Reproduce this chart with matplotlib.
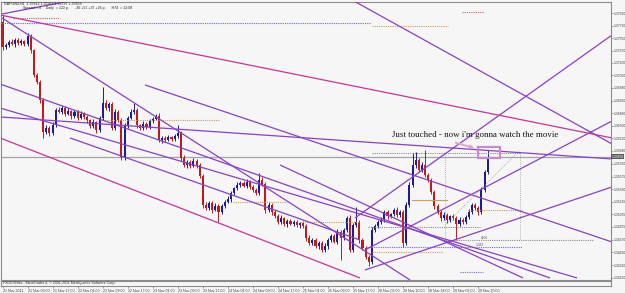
import matplotlib
matplotlib.use("Agg")
import matplotlib.pyplot as plt
from matplotlib.patches import Rectangle, FancyArrowPatch

# ---------------- data (GBPUSD H1) ----------------
first_open = 1.3778
closes = [
    1.3743, 1.3745, 1.3750, 1.3747, 1.3753, 1.3748, 1.3751, 1.3747, 1.3758, 1.3738,
    1.3703, 1.3693, 1.3667, 1.3621, 1.3627, 1.3620, 1.3631, 1.3653, 1.3650, 1.3655,
    1.3647, 1.3651, 1.3644, 1.3650, 1.3641, 1.3647, 1.3643, 1.3638, 1.3630, 1.3635,
    1.3624, 1.3641, 1.3663, 1.3655, 1.3661, 1.3627, 1.3650, 1.3638, 1.3585, 1.3630,
    1.3641, 1.3650, 1.3653, 1.3631, 1.3627, 1.3633, 1.3628, 1.3637, 1.3640, 1.3644,
    1.3610, 1.3613, 1.3610, 1.3614, 1.3611, 1.3615, 1.3620, 1.3584, 1.3574, 1.3578,
    1.3573, 1.3580, 1.3574, 1.3558, 1.3517, 1.3513, 1.3520, 1.3510, 1.3515, 1.3507,
    1.3515, 1.3521, 1.3525, 1.3534, 1.3541, 1.3545, 1.3548, 1.3544, 1.3550, 1.3543,
    1.3538, 1.3534, 1.3553, 1.3547, 1.3510, 1.3517, 1.3507, 1.3501, 1.3493, 1.3498,
    1.3490, 1.3494, 1.3490, 1.3493, 1.3488, 1.3491, 1.3487, 1.3470, 1.3463, 1.3467,
    1.3458, 1.3463, 1.3453, 1.3458, 1.3467, 1.3473, 1.3464, 1.3478, 1.3470, 1.3481,
    1.3498, 1.3453, 1.3488, 1.3493, 1.3467, 1.3455, 1.3443, 1.3435, 1.3481, 1.3487,
    1.3493, 1.3495, 1.3507, 1.3501, 1.3504, 1.3510, 1.3503, 1.3507, 1.3463, 1.3517,
    1.3545, 1.3574, 1.3581, 1.3567, 1.3574, 1.3560, 1.3553, 1.3536, 1.3515, 1.3507,
    1.3498, 1.3503, 1.3495, 1.3501, 1.3498, 1.3490, 1.3495, 1.3493, 1.3500, 1.3507,
    1.3517, 1.3513, 1.3507, 1.3538, 1.3564, 1.35858,
]
upper_wick_pips = [
    10, 3, 2, 4, 3, 2, 3, 2, 4, 3,
    2, 3, 2, 2, 4, 3, 5, 3, 4, 3,
    3, 4, 2, 3, 3, 4, 2, 3, 2, 4,
    2, 3, 22, 4, 3, 3, 4, 3, 3, 4,
    3, 4, 10, 3, 2, 4, 3, 3, 2, 3,
    4, 2, 3, 3, 2, 3, 11, 3, 4, 3,
    3, 4, 2, 3, 3, 4, 3, 2, 4, 3,
    3, 3, 4, 3, 2, 4, 3, 3, 4, 2,
    3, 3, 10, 4, 3, 4, 2, 3, 3, 4,
    2, 3, 3, 2, 3, 2, 3, 3, 4, 3,
    2, 3, 3, 4, 3, 3, 2, 4, 3, 3,
    3, 4, 3, 21, 3, 2, 3, 2, 4, 3,
    3, 4, 3, 3, 2, 3, 4, 2, 3, 4,
    4, 17, 12, 3, 4, 21, 3, 3, 2, 3,
    3, 4, 3, 2, 3, 3, 4, 3, 3, 4,
    3, 3, 2, 4, 3, 10,
]
lower_wick_pips = [
    5, 3, 3, 2, 4, 3, 2, 3, 3, 4,
    4, 3, 4, 8, 3, 4, 3, 3, 2, 3,
    3, 2, 4, 3, 3, 2, 3, 4, 3, 3,
    4, 3, 3, 2, 4, 3, 3, 3, 4, 4,
    3, 2, 3, 4, 3, 3, 2, 3, 3, 2,
    3, 4, 3, 2, 3, 3, 3, 4, 3, 4,
    3, 2, 4, 3, 4, 3, 3, 4, 2, 14,
    3, 3, 2, 4, 3, 3, 3, 2, 3, 4,
    3, 3, 3, 3, 4, 3, 4, 3, 4, 3,
    3, 4, 2, 3, 3, 4, 3, 4, 3, 4,
    3, 4, 3, 3, 4, 3, 2, 3, 32, 3,
    3, 4, 3, 3, 4, 3, 4, 5, 3, 3,
    3, 3, 2, 4, 3, 3, 3, 4, 6, 3,
    3, 3, 4, 3, 3, 3, 4, 3, 4, 3,
    4, 3, 4, 3, 3, 23, 3, 4, 3, 3,
    3, 4, 4, 3, 3, 3,
]
bid_price = 1.35858

price_ticks = [1.37910, 1.37730, 1.37550, 1.37370, 1.37200, 1.37020, 1.36840,
               1.36660, 1.36480, 1.36300, 1.36120, 1.35940, 1.35760, 1.35575,
               1.35390, 1.35215, 1.35035, 1.34855, 1.34670, 1.34490, 1.34310,
               1.34130]
time_labels = ["21 Nov 2011", "21 Nov 09:00", "21 Nov 17:00", "22 Nov 01:00",
               "22 Nov 09:00", "22 Nov 17:00", "23 Nov 01:00", "23 Nov 09:00",
               "23 Nov 17:00", "24 Nov 01:00", "24 Nov 09:00", "24 Nov 17:00",
               "25 Nov 01:00", "25 Nov 09:00", "25 Nov 17:00", "28 Nov 02:00",
               "28 Nov 10:00", "28 Nov 18:00", "29 Nov 02:00", "29 Nov 10:00"]
time_label_bars = [0, 8, 16, 24, 32, 40, 48, 56, 64, 72, 80, 88, 96, 104,
                   112, 120, 128, 136, 144, 152]

# drawn trend lines: (bar0, price0, bar1, price1, kind)
trend_lines = [
    (-0.80, 1.37883, 194.73, 1.36126, "magenta"),
    (-0.80, 1.36126, 114.22, 1.34126, "magenta"),
    (-0.16, 1.37840, 130.19, 1.34097, "purple"),
    (-0.16, 1.37897, 23.16, 1.38097, "purple"),
    (111.66, 1.38097, 194.73, 1.36040, "purple"),
    (112.62, 1.34983, 194.73, 1.37597, "purple"),
    (-0.80, 1.36426, 194.73, 1.35826, "purple"),
    (115.81, 1.34526, 194.73, 1.36368, "purple"),
    (115.81, 1.34240, 194.73, 1.35426, "purple"),
    (45.53, 1.36883, 194.73, 1.34640, "purple"),
    (88.66, 1.35740, 166.29, 1.34126, "purple"),
    (-0.80, 1.36897, 174.92, 1.34126, "purple"),
    (-0.80, 1.36554, 183.55, 1.34126, "purple"),
    (21.57, 1.36126, 114.22, 1.34668, "purple"),
]
# dotted horizontal levels: (bar0, bar1, price, kind)
dotted_levels = [
    (-0.80, 117.41, 1.37768, "blue"),
    (3.35, 18.37, 1.37840, "red"),
    (118.05, 142.33, 1.37726, "orange"),
    (146.81, 153.83, 1.37926, "red"),
    (118.05, 165.34, 1.35911, "gray"),
    (141.37, 188.66, 1.34668, "gray"),
    (116.77, 152.56, 1.34854, "gray"),
    (116.45, 165.97, 1.34569, "blue"),
    (118.05, 140.73, 1.34497, "orange"),
    (148.72, 165.97, 1.35097, "orange"),
    (146.17, 153.51, 1.34211, "blue"),
    (31.15, 69.49, 1.36383, "orange"),
    (73.64, 90.89, 1.35211, "orange"),
    (95.05, 114.22, 1.34926, "orange"),
]
# dotted gray helper segments (bar0, price0, bar1, price1)
dotted_segments = [
    (141.37, 1.35911, 141.37, 1.34668),
    (165.34, 1.35911, 165.34, 1.34668),
    (141.37, 1.34883, 165.34, 1.35954),
]
cross_level = (130.83, 142.01, 1.35240)
box = (151.92, 1.35840, 158.95, 1.35997)
arrow = (143.93, 1.36069, 151.60, 1.35969)
note_pos = (150.96, 1.36169)
note_text = "Just touched - now i'm gonna watch the movie"

# ---------------- styling ----------------
W, H = 625, 293
BG = "#f6f6f6"
BULL = "#1c1c96"
BEAR = "#c01a1a"
SMALL = "Liberation Sans"
colors = {"magenta": "#c8329b", "purple": "#8a3fc4", "blue": "#6a6ad8",
          "red": "#d06060", "orange": "#d39a5a", "gray": "#8a8a8a"}

fig = plt.figure(figsize=(W / 100, H / 100), dpi=100, facecolor=BG)

def px_axes(x0, y0, x1, y1):
    return fig.add_axes([x0 / W, 1 - y1 / H, (x1 - x0) / W, (y1 - y0) / H])

ax = px_axes(1, 2, 611, 280)
ax.set_facecolor(BG)
ax.set_xlim(-0.48, 194.4)
ax.set_ylim(1.34097, 1.38068)

# candles
opens = [first_open] + closes[:-1]
for i, (o, c) in enumerate(zip(opens, closes)):
    hi = max(o, c) + upper_wick_pips[i] * 0.0001
    lo = min(o, c) - lower_wick_pips[i] * 0.0001
    col = BULL if c >= o else BEAR
    ax.vlines(i, lo, hi, color=col, lw=0.7, zorder=2)
    h = max(abs(c - o), 0.00012)
    ax.bar(i, h, bottom=min(o, c), width=0.66, color=col, lw=0, zorder=3)

# bid line
ax.axhline(bid_price, color="#a4a4a4", lw=0.9, zorder=1)

# dotted levels
for b0, b1, p, kind in dotted_levels:
    ax.plot([b0, b1], [p, p], color=colors[kind], lw=0.8,
            linestyle=(0, (1, 1)), zorder=4)
for b0, p0, b1, p1 in dotted_segments:
    ax.plot([b0, b1], [p0, p1], color="#9a9a9a", lw=0.6,
            linestyle=(0, (1, 1.5)), zorder=4)
ax.plot([cross_level[0], cross_level[1]], [cross_level[2]] * 2,
        color=colors["orange"], lw=0.8, zorder=4)

# trend lines
for b0, p0, b1, p1, kind in trend_lines:
    ax.plot([b0, b1], [p0, p1], color=colors[kind], lw=0.9, zorder=5,
            solid_capstyle="butt")

# box, arrow, note
ax.add_patch(Rectangle((box[0], box[1]), box[2] - box[0], box[3] - box[1],
                       fill=False, ec="#c48ccc", lw=1.6, zorder=6))
ax.add_patch(FancyArrowPatch((arrow[0], arrow[1]), (arrow[2], arrow[3]),
                             arrowstyle="-|>", mutation_scale=5,
                             color="#dda0cf", lw=1.3, zorder=6))
ax.text(note_pos[0], note_pos[1], note_text, ha="center", va="center",
        family="Liberation Serif", fontsize=6.4, color="#101010", zorder=7)

# small labels near the fib drawing
ax.text(153.8, 1.34700, "1100", fontsize=2.4, family=SMALL, color="#555555",
        ha="center", va="center")
ax.text(152.5, 1.34590, "1.347", fontsize=2.4, family=SMALL, color="#4040c0",
        ha="center", va="center")

# right price scale
ax.yaxis.tick_right()
ax.set_yticks(price_ticks)
ax.set_yticklabels([f"{v:.5f}" for v in price_ticks], family=SMALL)
ax.tick_params(axis="y", direction="out", length=1.5, width=0.5, color="#707070",
               labelsize=2.4, labelcolor="#404040", pad=0.6)
ax.set_xticks([])
for s in ax.spines.values():
    s.set_color("#8c8c8c")
    s.set_linewidth(0.8)

# bid marker on the scale
ax.text(1.0012, bid_price, f"{bid_price:.5f}", transform=ax.get_yaxis_transform(),
        fontsize=2.4, family=SMALL, color="white", va="center", ha="left",
        bbox=dict(boxstyle="square,pad=0.15", fc="#5a5a5a", ec="none"), zorder=8,
        clip_on=False)

# header
fig.text(4 / W, 1 - 2 / H, "GBPUSD,H1  1.35812 1.35953 1.35797 1.35858",
         fontsize=2.6, family=SMALL, va="top", ha="left", color="#202020")
fig.text(23 / W, 1 - 6.5 / H,
         "Spread = 4     Daily  = 122 p.      -30 +51 +37 +26 p.      H74  = 12:08",
         fontsize=2.6, family=SMALL, va="top", ha="left", color="#202020")

# sub-window with copyright and time scale
ax2 = px_axes(1, 281, 611, 285.5)
ax2.set_facecolor(BG)
ax2.set_xlim(-0.48, 194.4)
ax2.set_yticks([])
ax2.set_xticks(time_label_bars)
ax2.set_xticklabels(time_labels, ha="left", family=SMALL)
ax2.tick_params(axis="x", direction="out", length=1.5, width=0.5, color="#707070",
                labelsize=2.6, labelcolor="#404040", pad=0.8)
for s in ax2.spines.values():
    s.set_color("#8c8c8c")
    s.set_linewidth(0.8)
ax2.text(0.003, 0.5, "FXDD Malta - MetaTrader 4, \u00a9 2001-2011 MetaQuotes Software Corp.",
         transform=ax2.transAxes, fontsize=2.6, family=SMALL, va="center", ha="left",
         color="#303030")

fig.savefig("out.png", dpi=100, facecolor=BG)
